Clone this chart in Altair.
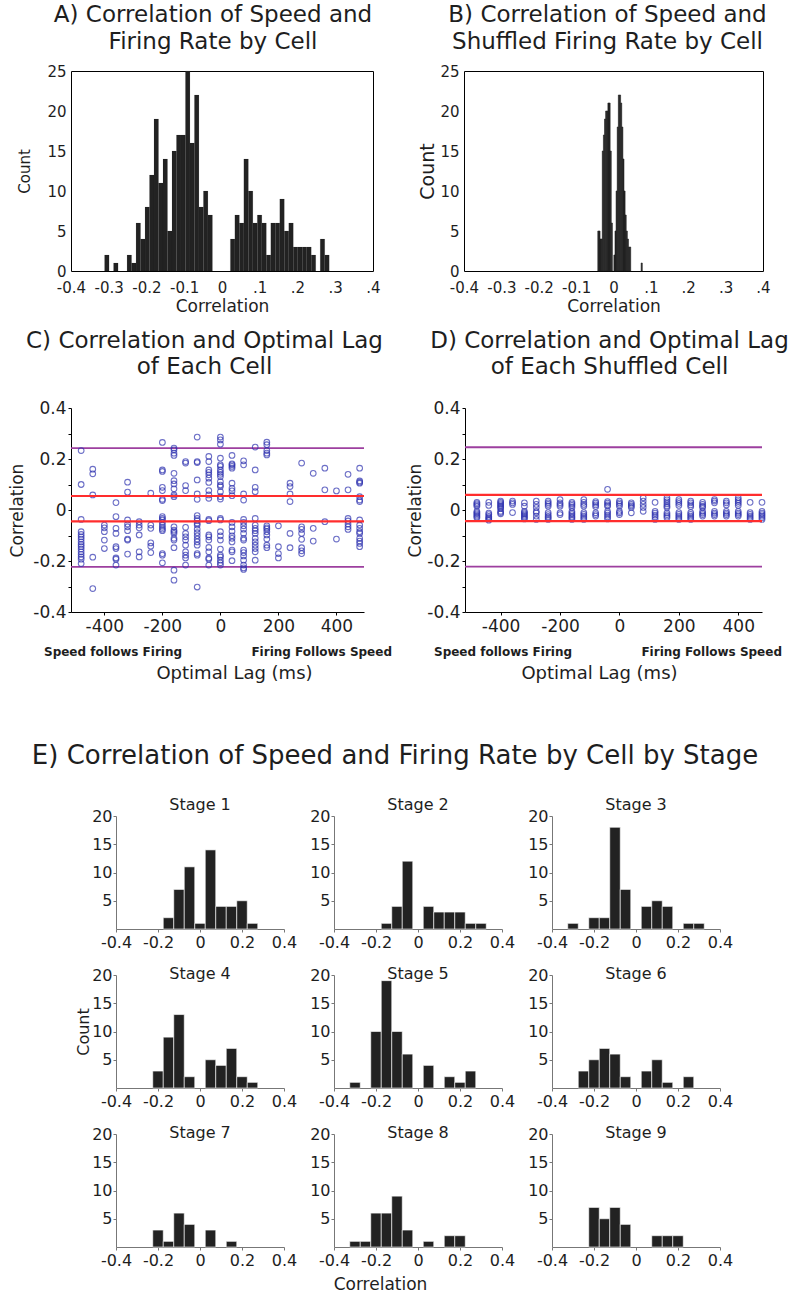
import altair as alt
import pandas as pd

FONT = "DejaVu Sans"
INK = "#1e1e1e"
BAR = "#222222"
DOT = "#2f33b0"
RED = "#ff2d2d"
PURPLE = "#9d3f9f"

# ---------------- Panel A ----------------
A_TITLE = ["A) Correlation of Speed and", "Firing Rate by Cell"]
A_BIN_START = -0.311
A_BIN_WIDTH = 0.0119
A_COUNTS = [2, 0, 1, 0, 0, 2, 1, 6, 4, 8, 12, 19, 11, 14, 5, 15, 17, 17, 25, 16, 22, 8, 10, 7,
            0, 0, 0, 0, 4, 7, 6, 14, 10, 6, 7, 6, 2, 6, 6, 9, 5, 6, 3, 3, 3, 3, 2, 0, 4, 2]

# ---------------- Panel B ----------------
B_TITLE = ["B)  Correlation of Speed and", "Shuffled Firing Rate by Cell"]
B_BIN_WIDTH = 0.003
B_BIN_LEFT = [-0.042, -0.039, -0.036, -0.033, -0.030, -0.027, -0.024, -0.021, -0.018, -0.015,
              -0.012, -0.009, -0.006, 0.001, 0.004, 0.007, 0.010, 0.013, 0.016, 0.019, 0.022,
              0.025, 0.028, 0.031, 0.034, 0.037, 0.040, 0.043, 0.074]
B_COUNTS = [5, 5, 4, 4, 15, 17, 19, 20, 20, 21, 21, 15, 6, 2, 5, 10, 18, 22, 22, 21, 18, 14, 10,
            7, 5, 4, 3, 3, 1]

HIST_TICKS = [-0.4, -0.3, -0.2, -0.1, 0, 0.1, 0.2, 0.3, 0.4]
COUNT_TICKS = [0, 5, 10, 15, 20, 25]

# ---------------- Panels C / D ----------------
C_TITLE = ["C) Correlation and Optimal Lag", "of Each Cell"]
D_TITLE = ["D) Correlation and Optimal Lag", "of Each Shuffled Cell"]
LAGS = [-480, -440, -400, -360, -320, -280, -240, -200, -160, -120, -80, -40, 0,
        40, 80, 120, 160, 200, 240, 280, 320, 360, 400, 440, 480]
C_CORRS = [
    [0.233, 0.10, -0.037, -0.085, -0.096, -0.105, -0.114, -0.125, -0.135, -0.144, -0.153, -0.164, -0.174, -0.184, -0.193, -0.21],
    [0.16, 0.142, 0.059, -0.185, -0.308],
    [-0.059, -0.07, -0.085, -0.118, -0.151],
    [0.029, -0.026, -0.072, -0.092, -0.144, -0.151, -0.188, -0.193, -0.216],
    [0.109, 0.07, -0.039, -0.055, -0.066, -0.081, -0.114, -0.118, -0.173],
    [-0.046, -0.059, -0.07, -0.098, -0.164, -0.184],
    [0.066, -0.059, -0.072, -0.129, -0.142, -0.167],
    [0.265, 0.157, 0.151, 0.089, 0.076, 0.042, 0.037, -0.026, -0.033, -0.039, -0.049, -0.059, -0.068, -0.075, -0.081, -0.171, -0.177, -0.207],
    [0.243, 0.236, 0.223, 0.214, 0.144, 0.115, 0.102, 0.083, 0.059, 0.052, -0.066, -0.079, -0.085, -0.092, -0.111, -0.118, -0.148, -0.236, -0.275],
    [0.19, 0.184, 0.096, 0.076, -0.068, -0.092, -0.105, -0.118, -0.138, -0.164, -0.177, -0.188, -0.216],
    [0.286, 0.19, 0.186, 0.118, 0.063, 0.042, -0.022, -0.033, -0.042, -0.052, -0.059, -0.075, -0.089, -0.101, -0.114, -0.125, -0.138, -0.171, -0.177, -0.302],
    [0.21, 0.19, 0.157, 0.148, 0.138, 0.125, 0.108, 0.076, 0.059, 0.046, -0.037, -0.042, -0.098, -0.105, -0.118, -0.147, -0.164, -0.188, -0.193, -0.216],
    [0.286, 0.275, 0.258, 0.203, 0.177, 0.171, 0.157, 0.148, 0.14, 0.131, 0.111, 0.098, 0.092, 0.072, 0.052, 0.043, -0.033, -0.039, -0.085, -0.101, -0.118, -0.153, -0.177, -0.184, -0.197, -0.207, -0.216],
    [0.214, 0.181, 0.177, 0.171, 0.164, 0.105, 0.085, 0.075, 0.056, -0.049, -0.066, -0.083, -0.101, -0.111, -0.125, -0.157, -0.164, -0.199],
    [0.193, 0.177, 0.063, 0.039, -0.037, -0.049, -0.062, -0.075, -0.092, -0.111, -0.118, -0.157, -0.167, -0.18, -0.197, -0.216, -0.227, -0.233],
    [0.247, 0.157, 0.089, 0.072, -0.033, -0.059, -0.072, -0.081, -0.092, -0.111, -0.125, -0.138, -0.151, -0.164, -0.197],
    [0.266, 0.256, 0.233, 0.223, 0.216, -0.062, -0.07, -0.075, -0.085, -0.098, -0.114, -0.138, -0.148],
    [-0.062, -0.144, -0.171, -0.188],
    [0.105, 0.092, 0.063, 0.033, -0.092, -0.148],
    [0.184, -0.066, -0.076, -0.092, -0.115, -0.148, -0.16, -0.171],
    [0.144, -0.072, -0.122],
    [0.164, 0.079, -0.046],
    [0.075, -0.114],
    [0.14, 0.079, -0.033, -0.043, -0.055, -0.066, -0.076],
    [0.164, 0.114, 0.109, 0.105, 0.052, 0.039, 0.033, -0.039, -0.059, -0.072, -0.085, -0.092, -0.111, -0.122, -0.131, -0.144],
]
D_CORRS = [
    [0.030, 0.025, 0.020, 0.015, -0.005, -0.010, -0.015, -0.020, -0.025, -0.030],
    [0.030, 0.018, -0.012, -0.018, -0.025, -0.030, -0.035, -0.040],
    [0.035, 0.030, 0.025, 0.020, 0.015, 0.010, 0.005, -0.005, -0.010, -0.015],
    [0.035, 0.028, 0.022, -0.010],
    [0.028, 0.015, -0.005, -0.010, -0.015, -0.020, -0.025, -0.030, -0.035],
    [0.035, 0.022, 0.010, -0.005, -0.011, -0.024, -0.037],
    [0.035, 0.028, 0.022, 0.015, -0.010, -0.018, -0.025, -0.030, -0.037],
    [0.041, 0.028, 0.022, 0.015, -0.011, -0.018],
    [0.030, 0.024, 0.018, 0.010, -0.005, -0.012, -0.018, -0.025, -0.030, -0.037],
    [0.041, 0.030, 0.022, 0.015, -0.010, -0.017, -0.024, -0.030, -0.037],
    [0.033, 0.027, 0.020, 0.013, -0.011, -0.018, -0.024],
    [0.081, 0.033, 0.027, 0.020, 0.015, -0.005, -0.012, -0.020, -0.027, -0.035],
    [0.035, 0.028, 0.022, 0.015, -0.005, -0.011, -0.018],
    [0.028, 0.022, 0.016, 0.010, -0.011],
    [0.048, 0.035, 0.022, 0.010, -0.005],
    [0.030, -0.005, -0.012, -0.020, -0.027, -0.037],
    [0.048, 0.040, 0.032, 0.024, 0.016, 0.010, -0.011, -0.018, -0.024, -0.030],
    [0.041, 0.033, 0.026, 0.018, -0.010, -0.017, -0.024, -0.030, -0.037],
    [0.035, 0.028, 0.020, 0.013, -0.010, -0.017, -0.024, -0.030, -0.037],
    [0.030, 0.022, 0.015, 0.010, -0.005, -0.012, -0.018, -0.024],
    [0.041, 0.035, 0.028, -0.005, -0.012, -0.018, -0.024],
    [0.035, 0.028, 0.020, -0.005, -0.012, -0.018, -0.024],
    [0.048, 0.040, 0.033, 0.026, 0.018, -0.005, -0.012, -0.018, -0.024],
    [0.030, -0.010, -0.017, -0.024, -0.030, -0.037],
    [0.030, -0.005, -0.012, -0.018, -0.024, -0.030, -0.037],
]
C_PURPLE = [0.243, -0.223]
C_RED = [0.055, -0.045]
D_PURPLE = [0.246, -0.222]
D_RED = [0.059, -0.044]
LAG_TICKS = [-400, -200, 0, 200, 400]
CORR_TICKS = [-0.4, -0.3, -0.2, -0.1, 0, 0.1, 0.2, 0.3, 0.4]
NOTES = ["Speed follows Firing", "Firing Follows Speed"]

# ---------------- Panel E ----------------
E_TITLE = "E) Correlation of Speed and Firing Rate by Cell by Stage"
STAGE_NAMES = ["Stage 1", "Stage 2", "Stage 3", "Stage 4", "Stage 5",
               "Stage 6", "Stage 7", "Stage 8", "Stage 9"]
STAGE_BIN_WIDTH = 0.05
STAGE_CENTERS = [-0.3, -0.25, -0.2, -0.15, -0.1, -0.05, 0, 0.05, 0.1, 0.15, 0.2, 0.25, 0.3]
STAGE_COUNTS = [
    [0, 0, 0, 2, 7, 11, 1, 14, 4, 4, 5, 1, 0],
    [0, 0, 0, 1, 4, 12, 0, 4, 3, 3, 3, 1, 1],
    [1, 0, 2, 2, 18, 7, 0, 4, 5, 4, 0, 1, 1],
    [0, 0, 3, 9, 13, 2, 0, 5, 4, 7, 2, 1, 0],
    [1, 0, 10, 19, 10, 6, 0, 4, 0, 2, 1, 3, 0],
    [0, 3, 5, 7, 6, 2, 0, 3, 5, 1, 0, 2, 0],
    [0, 0, 3, 1, 6, 4, 0, 3, 0, 1, 0, 0, 0],
    [1, 1, 6, 6, 9, 3, 0, 1, 0, 2, 2, 0, 0],
    [0, 0, 7, 5, 7, 4, 0, 0, 2, 2, 2, 0, 0],
]
STAGE_X_TICKS = [-0.4, -0.2, 0, 0.2, 0.4]
STAGE_Y_TICKS = [5, 10, 15, 20]

SIGNED = "(abs(datum.value) < 0.001 ? '0' : (datum.value < 0 ? '-' : '') + format(abs(datum.value), '.1f'))"
A_LABEL = ("abs(datum.value) < 0.001 ? '0' : (datum.value < 0 ? '-' + format(abs(datum.value), '.1f') "
           ": replace(format(datum.value, '.1f'), '0.', '.'))")
CORR_LABEL = "abs(round(datum.value * 10)) % 2 == 1 ? '' : " + SIGNED
LAG_LABEL = "(datum.value < 0 ? '-' : '') + format(abs(datum.value), 'd')"


def top_hist(df, title, width, count_size, count_pad, dx, stroke_w):
    x = alt.X("x0:Q", scale=alt.Scale(domain=[-0.4, 0.4], nice=False, zero=False),
              axis=alt.Axis(values=HIST_TICKS, labelExpr=A_LABEL, title="Correlation",
                            ticks=False, domain=False, labelFontSize=15, labelPadding=9,
                            titleFontSize=17, titlePadding=3, labelFlush=False,
                            labelOverlap=False))
    y = alt.Y("count:Q", scale=alt.Scale(domain=[0, 25], nice=False),
              axis=alt.Axis(values=COUNT_TICKS, title="Count", titleFontSize=count_size,
                            titlePadding=count_pad, ticks=False, domain=False,
                            labelFontSize=15, labelPadding=5))
    return alt.Chart(df).mark_bar(color=BAR, stroke=BAR, strokeWidth=stroke_w).encode(
        x=x, x2="x1:Q", y=y, y2=alt.datum(0)
    ).properties(
        width=width, height=200,
        view=alt.ViewBackground(stroke="black", strokeWidth=1),
        title=alt.TitleParams(title, fontSize=23, lineHeight=27, anchor="middle",
                              frame="group", offset=10, dx=dx))


dfA = pd.DataFrame({"x0": [A_BIN_START + i * A_BIN_WIDTH for i in range(len(A_COUNTS))],
                    "count": A_COUNTS})
dfA["x1"] = dfA["x0"] + A_BIN_WIDTH
dfA = dfA[dfA["count"] > 0]
dfB = pd.DataFrame({"x0": B_BIN_LEFT, "count": B_COUNTS})
dfB["x1"] = dfB["x0"] + B_BIN_WIDTH

chartA = top_hist(dfA, A_TITLE, 302, 15, 14, -9, 0.1)
chartB = top_hist(dfB, B_TITLE, 299, 19, 2, -6, 0.6)


def scatter(corrs, purple, red, title, domain, width, dx, note_dx, xtitle_x, ytitle_pad):
    H = 204
    df = pd.DataFrame([(l, c) for l, cs in zip(LAGS, corrs) for c in cs], columns=["lag", "corr"])
    xax = alt.Axis(values=LAG_TICKS, labelExpr=LAG_LABEL, title="Optimal Lag (ms)",
                   titleFontSize=18, titlePadding=30, titleX=xtitle_x, labelFontSize=17,
                   tickSize=3, labelPadding=3, domainColor="black", tickColor="black",
                   labelFlush=False, labelOverlap=False)
    yax = alt.Axis(values=CORR_TICKS, labelExpr=CORR_LABEL, title="Correlation",
                   titleFontSize=17, titlePadding=ytitle_pad, labelFontSize=17, tickSize=3,
                   labelPadding=2, domainColor="black", tickColor="black",
                   labelOverlap=False)
    xs = alt.Scale(domain=domain, nice=False, zero=False)
    ys = alt.Scale(domain=[-0.4, 0.4], nice=False)
    pts = alt.Chart(df).mark_point(shape="circle", filled=False, color=DOT, size=32,
                                   strokeWidth=1.1).encode(
        x=alt.X("lag:Q", scale=xs, axis=xax), y=alt.Y("corr:Q", scale=ys, axis=yax))
    rp = alt.Chart(pd.DataFrame({"corr": purple})).mark_rule(color=PURPLE, strokeWidth=1.8).encode(
        y=alt.Y("corr:Q", scale=ys, axis=yax))
    rr = alt.Chart(pd.DataFrame({"corr": red})).mark_rule(color=RED, strokeWidth=2.2).encode(
        y=alt.Y("corr:Q", scale=ys, axis=yax))
    n1 = alt.Chart(pd.DataFrame({"t": [NOTES[0]]})).mark_text(
        align="left", baseline="middle", fontSize=12, fontWeight="bold", color=INK,
        dx=note_dx[0]).encode(x=alt.datum(domain[0]), y=alt.value(H + 40), text="t:N")
    n2 = alt.Chart(pd.DataFrame({"t": [NOTES[1]]})).mark_text(
        align="right", baseline="middle", fontSize=12, fontWeight="bold", color=INK,
        dx=note_dx[1]).encode(x=alt.datum(domain[1]), y=alt.value(H + 40), text="t:N")
    return alt.layer(rp, pts, rr, n1, n2).properties(
        width=width, height=H,
        title=alt.TitleParams(title, fontSize=23, lineHeight=26, anchor="middle",
                              frame="group", offset=20, dx=dx))


chartC = scatter(C_CORRS, C_PURPLE, C_RED, C_TITLE, [-515, 495], 293, -13, (-27, 28), 163, 6)
chartD = scatter(D_CORRS, D_PURPLE, D_RED, D_TITLE, [-520, 480], 297, -4, (-31, 20), 134, 2)


def stage(i):
    df = pd.DataFrame({"c": STAGE_CENTERS, "n": STAGE_COUNTS[i]})
    df = df[df["n"] > 0].copy()
    df["lo"] = df["c"] - STAGE_BIN_WIDTH / 2
    df["hi"] = df["c"] + STAGE_BIN_WIDTH / 2
    row = i // 3
    xax = alt.Axis(values=STAGE_X_TICKS, labelExpr=SIGNED, labelFontSize=16, tickSize=3,
                   labelPadding=2, domainColor="#777", tickColor="#777", labelFlush=False,
                   labelOverlap=False,
                   title="Correlation" if i == 7 else None, titleFontSize=17,
                   titlePadding=8, titleX=46)
    yax = alt.Axis(values=STAGE_Y_TICKS, labelFontSize=16, tickSize=3, labelPadding=1,
                   domainColor="#777", tickColor="#777",
                   title="Count" if i == 3 else None, titleFontSize=16, titlePadding=0)
    return alt.Chart(df).mark_bar(color=BAR, stroke="white", strokeWidth=0.6).encode(
        x=alt.X("lo:Q", scale=alt.Scale(domain=[-0.4, 0.4], nice=False, zero=False), axis=xax),
        x2="hi:Q",
        y=alt.Y("n:Q", scale=alt.Scale(domain=[0, 20], nice=False), axis=yax),
        y2=alt.datum(0),
    ).properties(width=168, height=113,
                 title=alt.TitleParams(STAGE_NAMES[i], fontSize=16, anchor="middle",
                                       frame="group", offset=-5 if row == 0 else -15))


def blank(w, h, title=None):
    c = alt.Chart(pd.DataFrame({"v": [0]})).mark_point(opacity=0).encode(
        x=alt.value(0), y=alt.value(0))
    if title is not None:
        return c.properties(width=w, height=h, title=title)
    return c.properties(width=w, height=h)


grid = alt.concat(*[stage(i) for i in range(9)], columns=3, align="each",
                  spacing={"row": 14, "column": 11})
e_head = blank(648, 1, alt.TitleParams(E_TITLE, fontSize=26, anchor="middle", offset=0,
                                       frame="group"))
chartE = alt.vconcat(e_head, alt.hconcat(blank(1, 5), grid, spacing=0), spacing=20)

top = alt.hconcat(chartA, chartB, spacing=37)
mid = alt.hconcat(chartC, chartD, spacing=13)
upper = alt.vconcat(top, mid, spacing=14)
chart = alt.vconcat(upper, chartE, spacing=59).properties(
    padding={"left": 8, "top": 3, "right": 4, "bottom": 2}
).configure(font=FONT).configure_view(stroke="transparent").configure_axis(
    grid=False, labelFont=FONT, titleFont=FONT, labelColor=INK, titleColor=INK,
    titleFontWeight="normal"
).configure_title(font=FONT, color=INK, fontWeight="normal")

chart.save("out.html", embed_options={"renderer": "svg", "actions": False})
